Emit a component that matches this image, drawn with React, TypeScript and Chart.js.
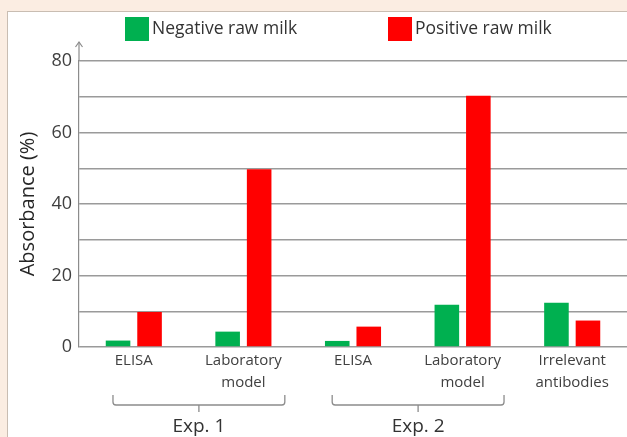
import { useEffect, useRef } from 'react';
import { Chart, registerables } from 'chart.js';

Chart.register(...registerables);

const categories: string[][] = [
  ['ELISA'],
  ['Laboratory', 'model'],
  ['ELISA'],
  ['Laboratory', 'model'],
  ['Irrelevant', 'antibodies'],
];
const negativeValues = [1.8, 4.3, 1.7, 11.8, 12.4];
const positiveValues = [9.8, 49.7, 5.7, 70.3, 7.4];
const seriesLabels = ['Negative raw milk', 'Positive raw milk'];
const seriesColors = ['#00b050', '#ff0000'];
const yMin = 0;
const yMax = 80;
const yGridStep = 10;
const yLabelStep = 20;
const yTitle = 'Absorbance (%)';
const groupLabels = ['Exp. 1', 'Exp. 2'];
const groupFirst = [0, 2];
const groupLast = [1, 3];

const FONT = "'Open Sans', sans-serif";

const decorPlugin = {
  id: 'decor',
  afterDraw(chart: any) {
    const ctx = chart.ctx as CanvasRenderingContext2D;
    const area = chart.chartArea;
    const xs = chart.scales.x;
    ctx.save();

    // y axis extension with arrow
    const ax = area.left;
    ctx.strokeStyle = '#8c8c8c';
    ctx.lineWidth = 1.2;
    ctx.beginPath();
    ctx.moveTo(ax, area.top);
    ctx.lineTo(ax, area.top - 19);
    ctx.stroke();
    ctx.beginPath();
    ctx.moveTo(ax - 3.5, area.top - 14);
    ctx.lineTo(ax, area.top - 19);
    ctx.lineTo(ax + 3.5, area.top - 14);
    ctx.stroke();

    // legend
    const legendX = [125, 388];
    ctx.font = `17.5px ${FONT}`;
    ctx.textBaseline = 'middle';
    ctx.textAlign = 'left';
    chart.data.datasets.forEach((ds: any, i: number) => {
      ctx.fillStyle = ds.backgroundColor;
      ctx.fillRect(legendX[i], 17, 24, 24);
      ctx.fillStyle = '#333333';
      ctx.fillText(ds.label, legendX[i] + 27, 29.5);
    });

    // group braces
    const w = xs.getPixelForValue(1) - xs.getPixelForValue(0);
    const yTop = area.bottom + 48;
    const yLine = area.bottom + 58;
    const yTick = area.bottom + 65;
    ctx.strokeStyle = '#8c8c8c';
    ctx.lineWidth = 1.3;
    groupLabels.forEach((label, i) => {
      const L = xs.getPixelForValue(groupFirst[i]) - 0.19 * w;
      const R = xs.getPixelForValue(groupLast[i]) + 0.378 * w;
      const M = (L + R) / 2;
      ctx.beginPath();
      ctx.moveTo(L, yTop);
      ctx.lineTo(L, yLine - 3);
      ctx.quadraticCurveTo(L, yLine, L + 3, yLine);
      ctx.lineTo(R - 3, yLine);
      ctx.quadraticCurveTo(R, yLine, R, yLine - 3);
      ctx.lineTo(R, yTop);
      ctx.moveTo(M, yLine);
      ctx.lineTo(M, yTick);
      ctx.stroke();
      ctx.fillStyle = '#333333';
      ctx.font = `19px ${FONT}`;
      ctx.textAlign = 'center';
      ctx.textBaseline = 'alphabetic';
      ctx.fillText(label, M, area.bottom + 84.5);
    });
    ctx.restore();
  },
};

export default function App() {
  const ref = useRef<HTMLCanvasElement | null>(null);

  useEffect(() => {
    if (!ref.current) return;
    const chart = new Chart(ref.current, {
      type: 'bar',
      data: {
        labels: categories,
        datasets: [
          {
            label: seriesLabels[0],
            data: negativeValues,
            backgroundColor: seriesColors[0],
            categoryPercentage: 0.575,
            barPercentage: 0.78,
          },
          {
            label: seriesLabels[1],
            data: positiveValues,
            backgroundColor: seriesColors[1],
            categoryPercentage: 0.575,
            barPercentage: 0.78,
          },
        ],
      },
      options: {
        responsive: false,
        animation: false,
        devicePixelRatio: 1,
        layout: { padding: { top: 61, left: 0, right: 0, bottom: 0 } },
        plugins: {
          legend: { display: false },
          tooltip: { enabled: false },
        },
        scales: {
          x: {
            grid: { display: false },
            border: { display: false },
            ticks: {
              color: '#404040',
              font: { family: FONT, size: 15, lineHeight: '22px' },
              padding: -5,
              maxRotation: 0,
              autoSkip: false,
            },
            afterFit: (s: any) => {
              s.height = 90;
            },
          },
          y: {
            min: yMin,
            max: yMax,
            grid: { color: '#9a9a9a', lineWidth: 1.5, drawTicks: false },
            border: { display: true, color: '#8c8c8c', width: 1.2 },
            ticks: {
              stepSize: yGridStep,
              padding: 7,
              color: '#404040',
              font: { family: FONT, size: 18 },
              callback: (v: any) => (Number(v) % yLabelStep === 0 ? String(v) : ''),
            },
            title: {
              display: true,
              text: yTitle,
              color: '#262626',
              font: { family: FONT, size: 20 },
              padding: { top: 16, bottom: 0 },
            },
            afterFit: (s: any) => {
              s.width = 79;
            },
          },
        },
      },
      plugins: [decorPlugin],
    });
    return () => chart.destroy();
  }, []);

  return (
    <div
      style={{
        position: 'fixed',
        left: 0,
        top: 0,
        width: 627,
        height: 437,
        background: '#fbede2',
        overflow: 'hidden',
      }}
    >
      <div
        style={{
          position: 'absolute',
          left: 7,
          top: 11,
          width: 660,
          height: 460,
          background: '#ffffff',
          border: '1px solid #c9bdb2',
        }}
      />
      <canvas
        ref={ref}
        width={627}
        height={437}
        style={{ position: 'absolute', left: 0, top: 0, width: 627, height: 437 }}
      />
    </div>
  );
}
